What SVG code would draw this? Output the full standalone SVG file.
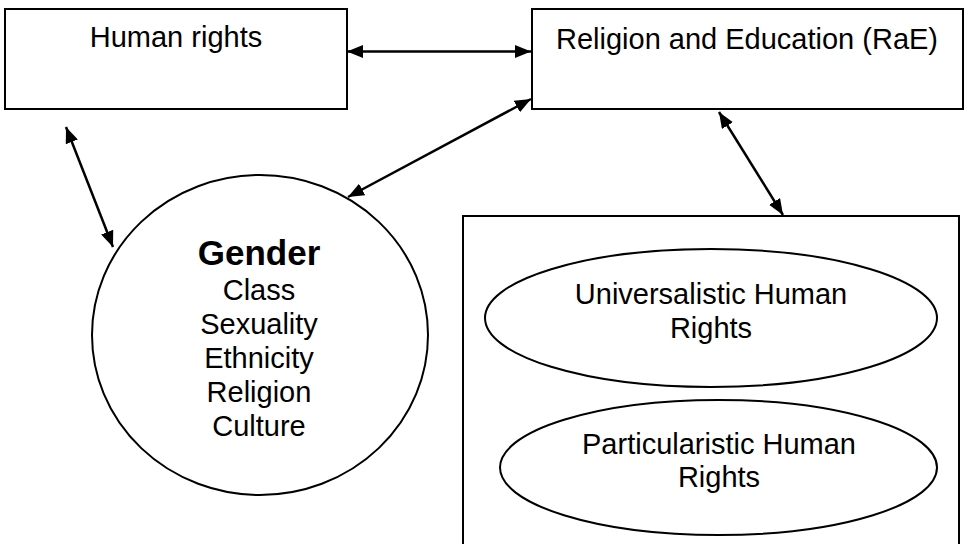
<svg xmlns="http://www.w3.org/2000/svg" width="980" height="544" viewBox="0 0 980 544">
<style>
.box{fill:#fff;stroke:#000;stroke-width:2}
.shape{fill:#fff;stroke:#000;stroke-width:2}
.t{font-family:"Liberation Sans",Arial,sans-serif;font-size:29px;fill:#000;text-anchor:middle}
.b{font-weight:bold;font-size:35px}
.conn{stroke:#000;stroke-width:2.5;fill:none;marker-start:url(#ah);marker-end:url(#ah)}
</style>
<defs>
<marker id="ah" markerUnits="userSpaceOnUse" markerWidth="16" markerHeight="13" refX="16" refY="6.5" orient="auto-start-reverse" viewBox="0 0 16 13">
<path d="M0,0 L16,6.5 L0,13 z" fill="#000"/>
</marker>
</defs>
<rect width="980" height="544" fill="#fff"/>
<g id="human-rights">
<rect class="box" x="5" y="9" width="342" height="100"/>
<text class="t" x="176" y="47">Human rights</text>
</g>
<g id="rae">
<rect class="box" x="532" y="9" width="431" height="100"/>
<text class="t" x="747" y="49">Religion and Education (RaE)</text>
</g>
<g id="gender">
<ellipse class="shape" cx="260" cy="335" rx="168" ry="160"/>
<text class="t b" x="259" y="265">Gender</text>
<text class="t" x="259" y="300">Class</text>
<text class="t" x="259" y="334">Sexuality</text>
<text class="t" x="259" y="368">Ethnicity</text>
<text class="t" x="259" y="402">Religion</text>
<text class="t" x="259" y="436">Culture</text>
</g>
<g id="rights-box">
<rect class="box" x="463" y="216" width="496" height="340"/>
</g>
<g id="universalistic">
<ellipse class="shape" cx="711" cy="318" rx="226" ry="69"/>
<text class="t" x="711" y="304">Universalistic Human</text>
<text class="t" x="711" y="338">Rights</text>
</g>
<g id="particularistic">
<ellipse class="shape" cx="718.5" cy="467.5" rx="218.5" ry="67.5"/>
<text class="t" x="719" y="454">Particularistic Human</text>
<text class="t" x="719" y="487">Rights</text>
</g>
<g id="connectors">
<line class="conn" x1="347" y1="51.5" x2="531" y2="51.5"/>
<line class="conn" x1="531" y1="99" x2="348" y2="197"/>
<line class="conn" x1="66" y1="127" x2="113" y2="247"/>
<line class="conn" x1="719" y1="112" x2="783" y2="215"/>
</g>
</svg>
